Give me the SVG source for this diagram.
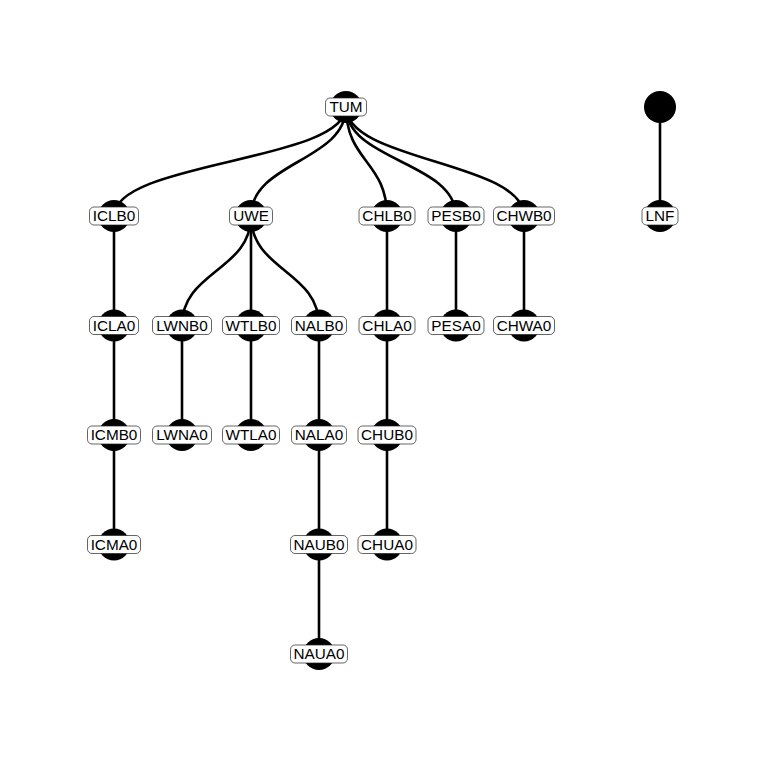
<svg xmlns="http://www.w3.org/2000/svg" width="768" height="768" viewBox="0 0 768 768">
  <style>
    .edge { fill: none; stroke: #000; stroke-width: 2.6; stroke-linecap: butt; }
    .dot { fill: #000; }
    .box { fill: #fff; stroke: #222; stroke-width: 0.7; }
    .lbl { font-family: "Liberation Sans", Arial, sans-serif; font-size: 15.3px; fill: #000; text-anchor: middle; }
  </style>
  <rect width="768" height="768" fill="#fff"/>

  <g id="edges">
    <path class="edge" d="M346 107 C346 161.5 114 161.5 114 216"/>
    <path class="edge" d="M346 107 C346 161.5 251 161.5 251 216"/>
    <path class="edge" d="M346 107 C346 161.5 387 161.5 387 216"/>
    <path class="edge" d="M346 107 C346 161.5 456 161.5 456 216"/>
    <path class="edge" d="M346 107 C346 161.5 524 161.5 524 216"/>
    <path class="edge" d="M660 107 L660 216"/>
    <path class="edge" d="M114 216 L114 325.5"/>
    <path class="edge" d="M114 325.5 L114 435"/>
    <path class="edge" d="M114 435 L114 544.5"/>
    <path class="edge" d="M251 216 C251 270.75 182 270.75 182 325.5"/>
    <path class="edge" d="M251 216 L251 325.5"/>
    <path class="edge" d="M251 216 C251 270.75 319 270.75 319 325.5"/>
    <path class="edge" d="M182 325.5 L182 435"/>
    <path class="edge" d="M251 325.5 L251 435"/>
    <path class="edge" d="M319 325.5 L319 435"/>
    <path class="edge" d="M319 435 L319 544.5"/>
    <path class="edge" d="M319 544.5 L319 654"/>
    <path class="edge" d="M387 216 L387 325.5"/>
    <path class="edge" d="M387 325.5 L387 435"/>
    <path class="edge" d="M387 435 L387 544.5"/>
    <path class="edge" d="M456 216 L456 325.5"/>
    <path class="edge" d="M524 216 L524 325.5"/>
  </g>

  <g id="root2"><circle class="dot" cx="660" cy="107" r="16"/></g>

  <g id="TUM"><circle class="dot" cx="346" cy="107" r="16"/><rect class="box" x="325.5" y="98" width="41" height="18" rx="4.5"/><text class="lbl" x="346" y="112.4">TUM</text></g>

  <g id="ICLB0"><circle class="dot" cx="114" cy="216" r="16"/><rect class="box" x="89.5" y="207" width="49" height="18" rx="4.5"/><text class="lbl" x="114" y="221.4">ICLB0</text></g>
  <g id="UWE"><circle class="dot" cx="251" cy="216" r="16"/><rect class="box" x="229.5" y="207" width="43" height="18" rx="4.5"/><text class="lbl" x="251" y="221.4">UWE</text></g>
  <g id="CHLB0"><circle class="dot" cx="387" cy="216" r="16"/><rect class="box" x="359" y="207" width="56" height="18" rx="4.5"/><text class="lbl" x="387" y="221.4">CHLB0</text></g>
  <g id="PESB0"><circle class="dot" cx="456" cy="216" r="16"/><rect class="box" x="428" y="207" width="56" height="18" rx="4.5"/><text class="lbl" x="456" y="221.4">PESB0</text></g>
  <g id="CHWB0"><circle class="dot" cx="524" cy="216" r="16"/><rect class="box" x="493.5" y="207" width="61" height="18" rx="4.5"/><text class="lbl" x="524" y="221.4">CHWB0</text></g>
  <g id="LNF"><circle class="dot" cx="660" cy="216" r="16"/><rect class="box" x="642" y="207" width="36" height="18" rx="4.5"/><text class="lbl" x="660" y="221.4">LNF</text></g>

  <g id="ICLA0"><circle class="dot" cx="114" cy="325.5" r="16"/><rect class="box" x="89.5" y="316.5" width="49" height="18" rx="4.5"/><text class="lbl" x="114" y="330.9">ICLA0</text></g>
  <g id="LWNB0"><circle class="dot" cx="182" cy="325.5" r="16"/><rect class="box" x="152.5" y="316.5" width="59" height="18" rx="4.5"/><text class="lbl" x="182" y="330.9">LWNB0</text></g>
  <g id="WTLB0"><circle class="dot" cx="251" cy="325.5" r="16"/><rect class="box" x="222.5" y="316.5" width="57" height="18" rx="4.5"/><text class="lbl" x="251" y="330.9">WTLB0</text></g>
  <g id="NALB0"><circle class="dot" cx="319" cy="325.5" r="16"/><rect class="box" x="291.5" y="316.5" width="55" height="18" rx="4.5"/><text class="lbl" x="319" y="330.9">NALB0</text></g>
  <g id="CHLA0"><circle class="dot" cx="387" cy="325.5" r="16"/><rect class="box" x="359" y="316.5" width="56" height="18" rx="4.5"/><text class="lbl" x="387" y="330.9">CHLA0</text></g>
  <g id="PESA0"><circle class="dot" cx="456" cy="325.5" r="16"/><rect class="box" x="428" y="316.5" width="56" height="18" rx="4.5"/><text class="lbl" x="456" y="330.9">PESA0</text></g>
  <g id="CHWA0"><circle class="dot" cx="524" cy="325.5" r="16"/><rect class="box" x="493.5" y="316.5" width="61" height="18" rx="4.5"/><text class="lbl" x="524" y="330.9">CHWA0</text></g>

  <g id="ICMB0"><circle class="dot" cx="114" cy="435" r="16"/><rect class="box" x="87.5" y="426" width="53" height="18" rx="4.5"/><text class="lbl" x="114" y="440.4">ICMB0</text></g>
  <g id="LWNA0"><circle class="dot" cx="182" cy="435" r="16"/><rect class="box" x="152.5" y="426" width="59" height="18" rx="4.5"/><text class="lbl" x="182" y="440.4">LWNA0</text></g>
  <g id="WTLA0"><circle class="dot" cx="251" cy="435" r="16"/><rect class="box" x="222.5" y="426" width="57" height="18" rx="4.5"/><text class="lbl" x="251" y="440.4">WTLA0</text></g>
  <g id="NALA0"><circle class="dot" cx="319" cy="435" r="16"/><rect class="box" x="291.5" y="426" width="55" height="18" rx="4.5"/><text class="lbl" x="319" y="440.4">NALA0</text></g>
  <g id="CHUB0"><circle class="dot" cx="387" cy="435" r="16"/><rect class="box" x="358" y="426" width="58" height="18" rx="4.5"/><text class="lbl" x="387" y="440.4">CHUB0</text></g>

  <g id="ICMA0"><circle class="dot" cx="114" cy="544.5" r="16"/><rect class="box" x="87.5" y="535.5" width="53" height="18" rx="4.5"/><text class="lbl" x="114" y="549.9">ICMA0</text></g>
  <g id="NAUB0"><circle class="dot" cx="319" cy="544.5" r="16"/><rect class="box" x="290.5" y="535.5" width="57" height="18" rx="4.5"/><text class="lbl" x="319" y="549.9">NAUB0</text></g>
  <g id="CHUA0"><circle class="dot" cx="387" cy="544.5" r="16"/><rect class="box" x="358" y="535.5" width="58" height="18" rx="4.5"/><text class="lbl" x="387" y="549.9">CHUA0</text></g>

  <g id="NAUA0"><circle class="dot" cx="319" cy="654" r="16"/><rect class="box" x="290.5" y="645" width="57" height="18" rx="4.5"/><text class="lbl" x="319" y="659.4">NAUA0</text></g>
</svg>
